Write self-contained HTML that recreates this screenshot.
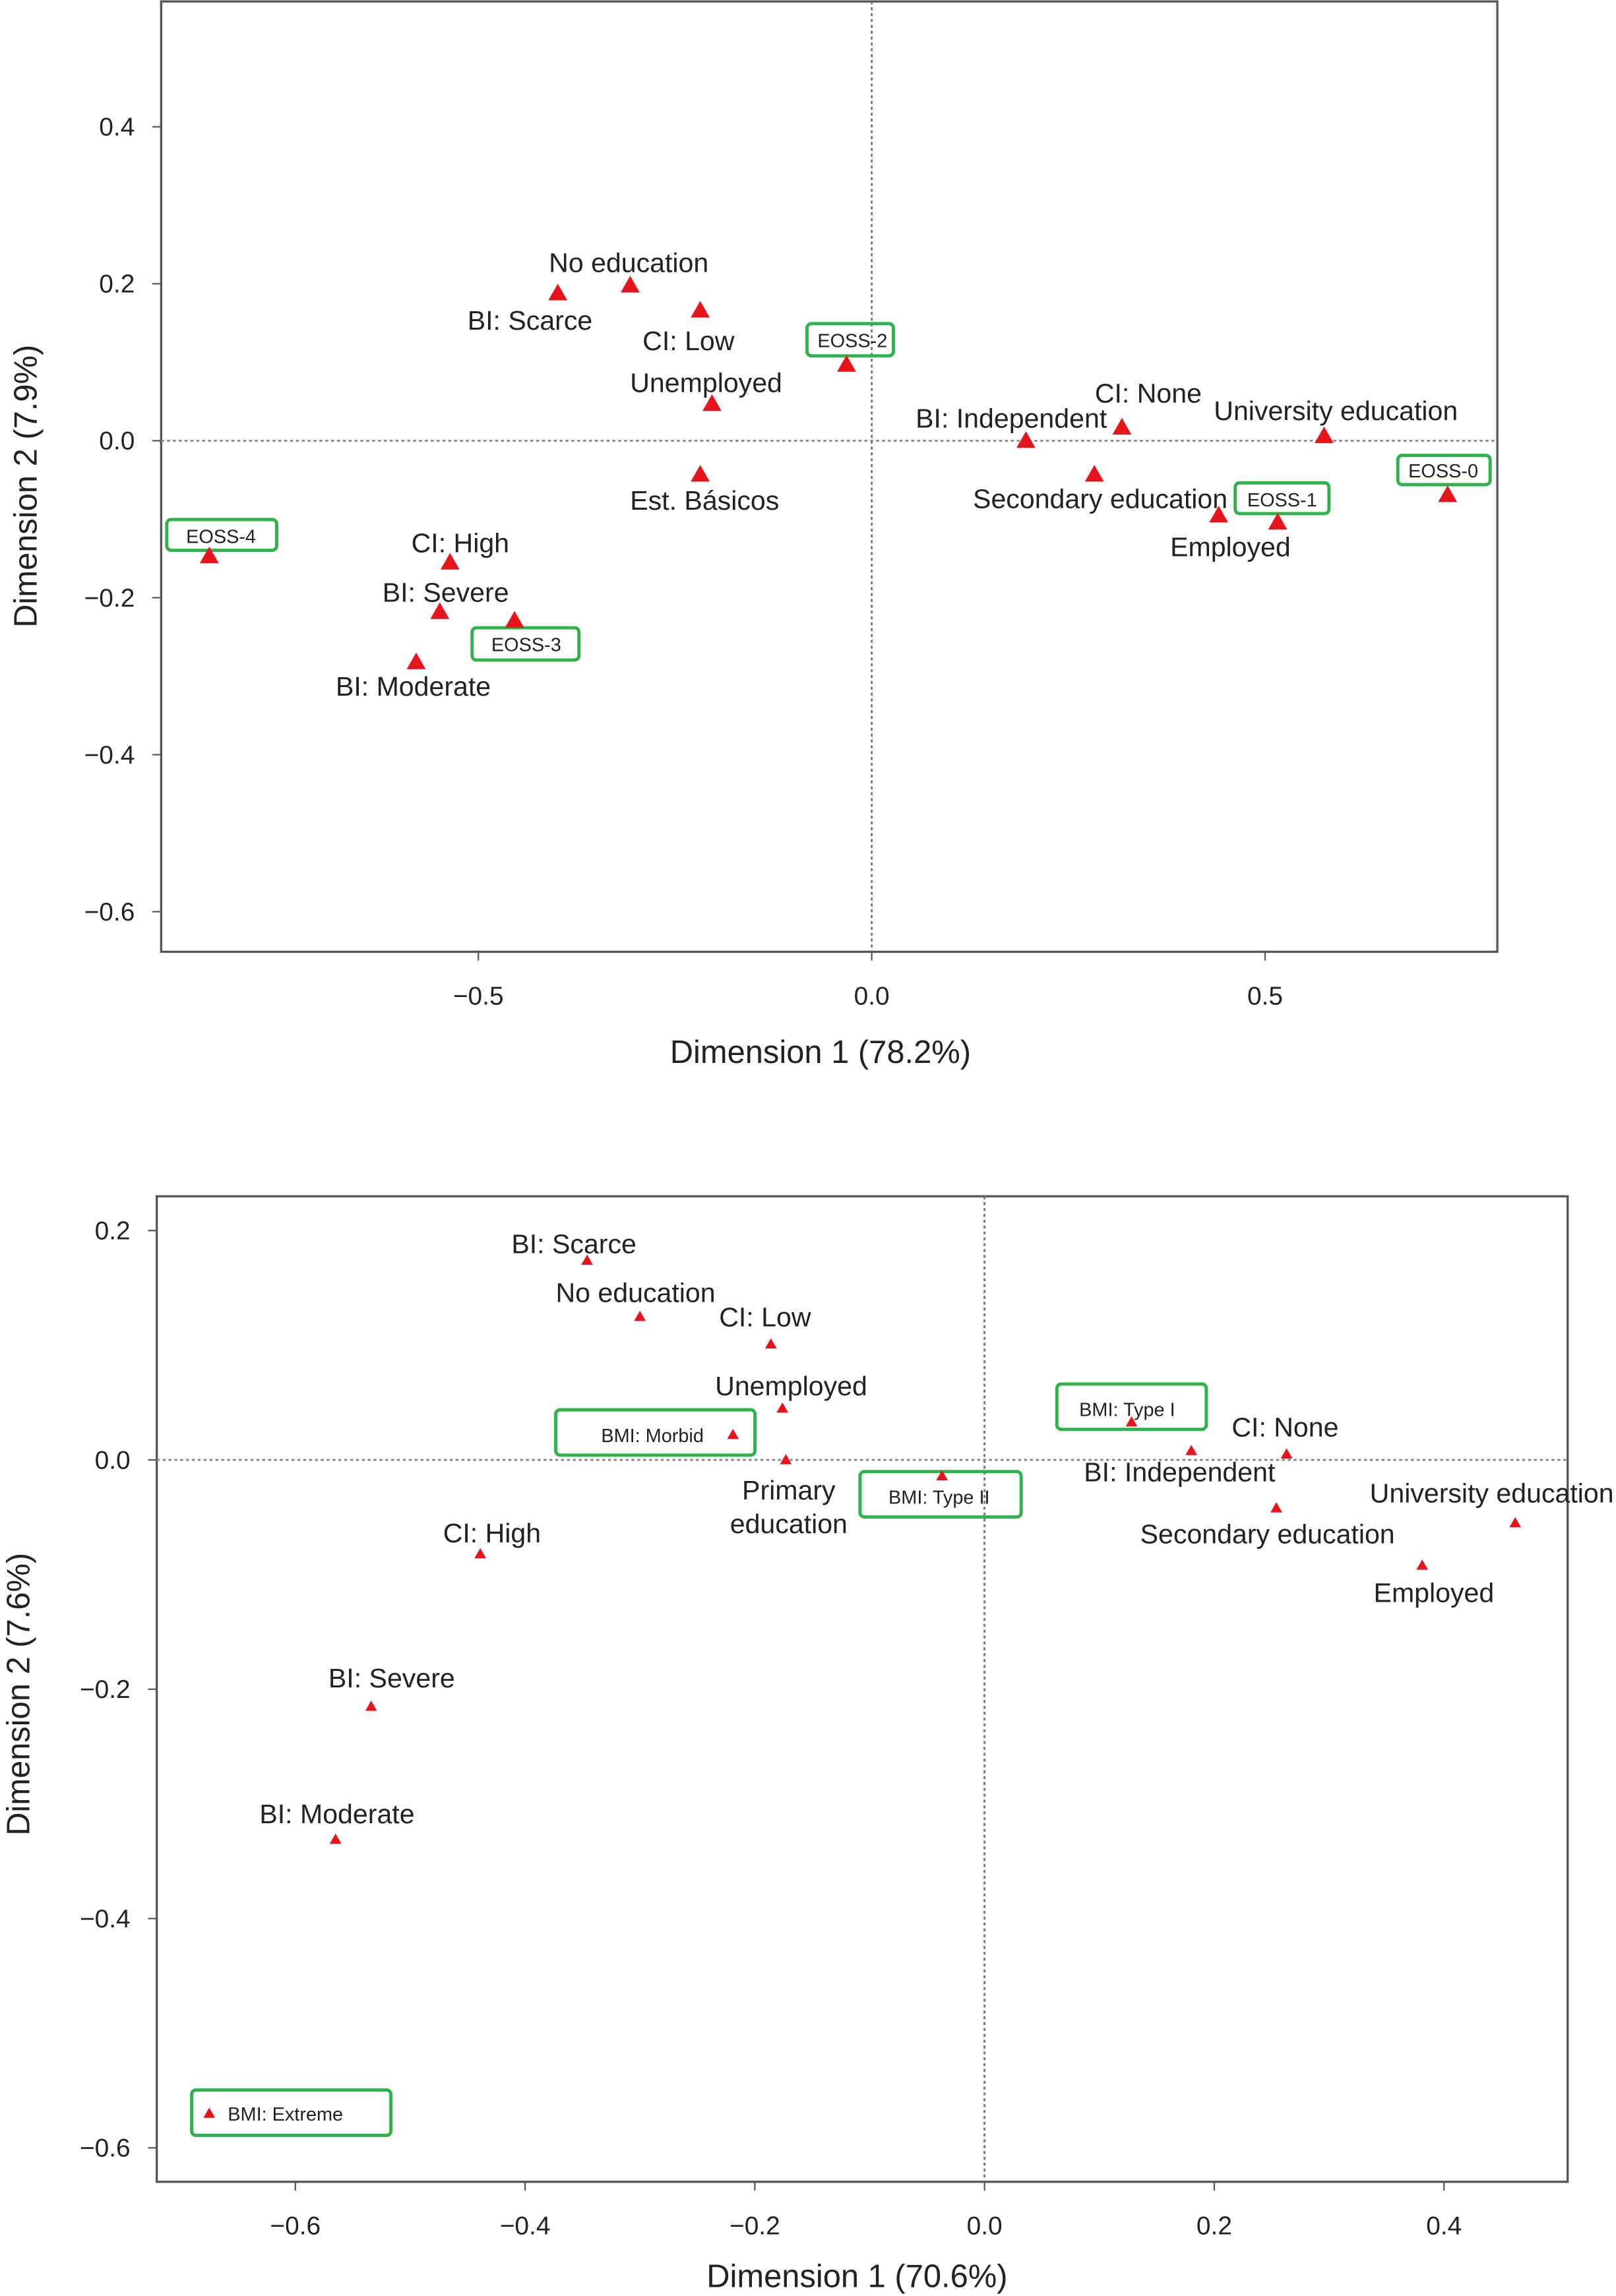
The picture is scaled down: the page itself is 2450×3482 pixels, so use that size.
<!DOCTYPE html>
<html><head><meta charset="utf-8"><style>
html,body{margin:0;padding:0;background:#fff;}
svg{display:block;font-family:"Liberation Sans",sans-serif;}
</style></head><body>
<svg id="s" width="2450" height="3482" viewBox="0 0 1103 1568" preserveAspectRatio="none"></svg>
<script>
// ---- Top chart data ----
const topNames=["No education","BI: Scarce","CI: Low","EOSS-2","Unemployed","Est. Básicos","BI: Independent","CI: None","University education","Secondary education","Employed","EOSS-1","EOSS-0","EOSS-4","CI: High","BI: Severe","EOSS-3","BI: Moderate"];
const topDim1=[-0.307,-0.399,-0.218,-0.032,-0.203,-0.218,0.196,0.318,0.575,0.283,0.441,0.516,0.732,-0.842,-0.536,-0.549,-0.454,-0.579];
const topDim2=[0.198,0.188,0.166,0.097,0.047,-0.043,0,0.017,0.006,-0.043,-0.095,-0.104,-0.069,-0.147,-0.155,-0.218,-0.229,-0.282];
const topXTicks=[-0.5,0.0,0.5];
const topYTicks=[0.4,0.2,0.0,-0.2,-0.4,-0.6];
// ---- Bottom chart data ----
const botNames=["BI: Scarce","No education","CI: Low","Unemployed","BMI: Morbid","Primary education","BMI: Type II","BMI: Type I","BI: Independent","CI: None","Secondary education","University education","Employed","CI: High","BI: Severe","BI: Moderate","BMI: Extreme"];
const botDim1=[-0.346,-0.300,-0.186,-0.176,-0.219,-0.173,-0.037,0.128,0.18,0.263,0.254,0.462,0.381,-0.439,-0.534,-0.565,-0.675];
const botDim2=[0.174,0.125,0.101,0.045,0.022,0,-0.014,0.033,0.008,0.005,-0.042,-0.055,-0.092,-0.082,-0.215,-0.331,-0.570];
const botXTicks=[-0.6,-0.4,-0.2,0.0,0.2,0.4];
const botYTicks=[0.2,0.0,-0.2,-0.4,-0.6];

const topLab={ "No education":[-1,-9],"BI: Scarce":[-19,25],"CI: Low":[-8,27],"EOSS-2":[4,-12,[-27,-28,59,22]],
"Unemployed":[-4,-8],"Est. Básicos":[3,24],"BI: Independent":[-10,-9],"CI: None":[18,-17],"University education":[8,-11],
"Secondary education":[4,23],"Employed":[8,28],"EOSS-1":[3,-11,[-29,-27,64,21]],"EOSS-0":[-3,-12,[-34,-27,63,20]],
"EOSS-4":[8,-9,[-29,-25,75,21]],"CI: High":[7,-7],"BI: Severe":[4,-7],"EOSS-3":[8,21,[-29,5,73,22]],"BI: Moderate":[-2,23]};
const botLab={"BI: Scarce":[-9,-5],"No education":[-3,-10],"CI: Low":[-4,-12],"Unemployed":[6,-9],"BMI: Morbid":[-55,5,[-121,-17,136,31]],
"Primary education":[2,27],"BMI: Type II":[-2,19,[-56,-3,110,31]],"BMI: Type I":[-3,-4,[-51,-26,102,31]],"BI: Independent":[-8,21],
"CI: None":[-1,-12],"Secondary education":[-6,24],"University education":[-16,-14],"Employed":[8,25],"CI: High":[8,-8],
"BI: Severe":[14,-13],"BI: Moderate":[1,-11],"BMI: Extreme":[52,5,[-12,-16,136,31]]};

const S=document.getElementById('s');
const NS="http://www.w3.org/2000/svg";
function mk(tag,attrs,parent,name,inter){const e=document.createElementNS(NS,tag);for(const k in attrs)e.setAttribute(k,attrs[k]);


(parent||S).appendChild(e);return e;}
function fmt(v){const s=v.toFixed(1);return v<0?'\u2212'+s.slice(1):s;}

function chart(cfg){
  const g=mk('g',{},S,cfg.id,false);
  const X=v=>cfg.x0+v*cfg.kx, Y=v=>cfg.y0-v*cfg.ky;
  mk('rect',{x:cfg.L,y:cfg.T,width:cfg.R-cfg.L,height:cfg.B-cfg.T,fill:'none',stroke:'#555','stroke-width':1.5},g,'plot-frame',false);
  mk('line',{x1:X(0),x2:X(0),y1:cfg.T,y2:cfg.B,stroke:'#777','stroke-width':1.3,'stroke-dasharray':'2,2'},g,'zero-line-vertical',false);
  mk('line',{x1:cfg.L,x2:cfg.R,y1:Y(0),y2:Y(0),stroke:'#888','stroke-width':1.3,'stroke-dasharray':'2,2'},g,'zero-line-horizontal',false);
  cfg.xt.forEach(v=>{mk('line',{x1:X(v),x2:X(v),y1:cfg.B,y2:cfg.B+6,stroke:'#555'},g,'x-tick',false);
    const t=mk('text',{x:X(v),y:cfg.B+36,'text-anchor':'middle','font-size':17.5,fill:'#222'},g,'x-tick-label',false);t.textContent=fmt(v);});
  cfg.yt.forEach(v=>{mk('line',{x1:cfg.L-6,x2:cfg.L,y1:Y(v),y2:Y(v),stroke:'#555'},g,'y-tick',false);
    const t=mk('text',{x:cfg.L-18,y:Y(v)+6,'text-anchor':'end','font-size':17.5,fill:'#222'},g,'y-tick-label',false);t.textContent=fmt(v);});
  let t=mk('text',{x:cfg.xtx,y:cfg.xty,'text-anchor':'middle','font-size':22,fill:'#222'},g,'x-axis-title',false);t.textContent=cfg.xtitle;
  t=mk('text',{x:0,y:0,'text-anchor':'middle','font-size':22,fill:'#222',transform:`translate(${cfg.ytx},${cfg.yty}) rotate(-90)`},g,'y-axis-title',false);t.textContent=cfg.ytitle;
  cfg.names.forEach((n,i)=>{
    const px=X(cfg.d1[i]),py=Y(cfg.d2[i]),h=cfg.ms,lab=cfg.lab[n]||[0,-10];
    if(lab[2]){const b=lab[2];mk('rect',{x:px+b[0],y:py+b[1],width:b[2],height:b[3],rx:3,fill:'none',stroke:'#2db34a','stroke-width':2.2},g,'label-box',false);}
    mk('polygon',{points:`${px},${py-h} ${px-h},${py+h*0.75} ${px+h},${py+h*0.75}`,fill:'#e8141b'},g,'point-marker',true);
    const fs=lab[2]?13:18.5;
    if(n==="Primary education"){
      ["Primary","education"].forEach((w,k)=>{const tt=mk('text',{x:px+lab[0],y:py+lab[1]+k*23,'text-anchor':'middle','font-size':fs,fill:'#222'},g,'point-label',false);tt.textContent=w;});
    } else {
      const tt=mk('text',{x:px+lab[0],y:py+lab[1],'text-anchor':'middle','font-size':fs,fill:'#222'},g,'point-label',false);tt.textContent=n;
    }
  });
}
chart({id:'top-chart',L:110,R:1022,T:1,B:650,x0:595,kx:537,y0:301,ky:536,xt:topXTicks,yt:topYTicks,names:topNames,d1:topDim1,d2:topDim2,lab:topLab,ms:6.5,
  xtitle:'Dimension 1 (78.2%)',xtx:560,xty:726,ytitle:'Dimension 2 (7.9%)',ytx:25,yty:332});
chart({id:'bottom-chart',L:107,R:1070,T:817,B:1490,x0:672,kx:784,y0:997,ky:783,xt:botXTicks,yt:botYTicks,names:botNames,d1:botDim1,d2:botDim2,lab:botLab,ms:4,
  xtitle:'Dimension 1 (70.6%)',xtx:585,xty:1562,ytitle:'Dimension 2 (7.6%)',ytx:20,yty:1157});
</script>
</body></html>
